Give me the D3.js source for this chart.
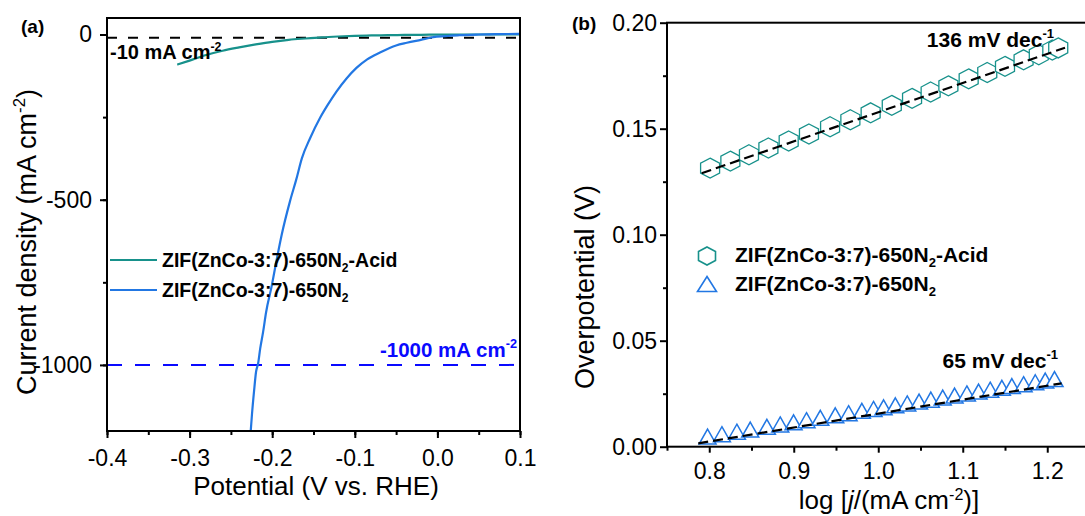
<!DOCTYPE html>
<html><head><meta charset="utf-8">
<script src="https://cdn.jsdelivr.net/npm/d3@7"></script>
<style>
body{margin:0;background:#fff}
text{font-family:"Liberation Sans",Arial,Helvetica,sans-serif;fill:#000}
</style>
</head><body>
<svg id="c" width="1085" height="516"></svg>
<script>
// ---------- Panel (a): LSV curves ----------
const potentialAcid = [-0.315,-0.30,-0.28,-0.26,-0.24,-0.22,-0.20,-0.18,-0.16,-0.14,-0.12,-0.10,-0.08,-0.06,-0.04,-0.02,0.0,0.05,0.10];
const currentAcid   = [-91,-79,-62,-49,-39,-30,-22,-16,-12,-8.5,-6,-4,-2.8,-2,-1.3,-0.8,-0.4,0,0.3];
const potentialN2 = [-0.226,-0.2245,-0.222,-0.2195,-0.217,-0.2145,-0.211,-0.2075,-0.2005,-0.196,-0.1885,-0.1785,-0.171,-0.164,-0.154,-0.142,-0.132,-0.122,-0.11,-0.098,-0.085,-0.07,-0.05,-0.037,-0.02,-0.005,0.01,0.027,0.05,0.07,0.10];
const currentN2   = [-1200,-1150,-1080,-1020,-995,-950,-900,-842,-760,-700,-606,-505,-440,-374,-313,-252,-210,-172,-133,-101,-75,-55,-33,-25,-16,-8,-5,-2,0,1,2];
const refLineA = [-10, -1000];
const xTicksA = [-0.4,-0.3,-0.2,-0.1,0.0,0.1];
const yTicksA = [0,-500,-1000];
const seriesNames = ["ZIF(ZnCo-3:7)-650N", "ZIF(ZnCo-3:7)-650N"];

// ---------- Panel (b): Tafel plots ----------
const logJAcid = [0.801,0.825,0.847,0.870,0.894,0.918,0.943,0.967,0.991,1.016,1.040,1.062,1.083,1.107,1.129,1.150,1.172,1.190,1.206,1.213];
const etaAcid  = [0.1314,0.1347,0.1377,0.1409,0.1442,0.1475,0.1509,0.1542,0.1575,0.1610,0.1643,0.1673,0.1702,0.1735,0.1765,0.1794,0.1825,0.1849,0.1871,0.1881];
const logJN2 = [0.798,0.815,0.8327,0.8485,0.8682,0.884,0.8998,0.9151,0.9314,0.9491,0.9649,0.9806,0.9944,1.0063,1.0202,1.0343,1.0483,1.0622,1.0763,1.0903,1.1049,1.1187,1.1325,1.1463,1.1581,1.172,1.1858,1.1976,1.2086];
const etaN2  = [0.0048,0.0059,0.0071,0.0081,0.0094,0.0105,0.0115,0.0125,0.0136,0.0148,0.0158,0.0169,0.0178,0.0186,0.0195,0.0204,0.0213,0.0222,0.0232,0.0241,0.0251,0.0260,0.0269,0.0278,0.0286,0.0295,0.0304,0.0312,0.0319];
const fitAcidX = [0.791,1.221], fitAcidY = [0.129,0.1882];
const fitN2X = [0.787,1.217], fitN2Y = [0.0016,0.0299];
const xTicksB = [0.8,0.9,1.0,1.1,1.2];
const yTicksB = [0.00,0.05,0.10,0.15,0.20];
const slopeLabels = ["136 mV dec", "65 mV dec"];

const TEAL = "#17918b", BLUE = "#2277e3", DBLUE = "#0a0aff";
const TICK_FS = 23, TITLE_FS = 26, VTITLE_FS = 27;
const svg = d3.select("#c");

function rich(sel, parts, fs, supShift){
  const ss = supShift || 0.42;
  let shift = 0;
  parts.forEach(([t, k]) => {
    const ts = sel.append("tspan").text(t);
    let target = 0, size = fs;
    if (k === "sup") { target = -ss*fs; size = 0.62*fs; }
    if (k === "sub") { target = 0.25*fs; size = 0.62*fs; }
    if (k === "it") { ts.attr("font-style","italic"); }
    ts.attr("dy", target - shift).attr("font-size", size);
    shift = target;
  });
  return sel;
}
const hyph = s => s.replace("\u2212","-");
function styleAxis(g){
  g.select(".domain").remove();
  g.selectAll("line").attr("stroke","#000").attr("stroke-width",2);
  g.selectAll("text").attr("font-size",TICK_FS).attr("font-family","Liberation Sans, Arial, sans-serif").attr("fill","#000");
}

// ================= Panel (a) =================
const A = {l:107, r:520, t:18, b:431};
const xA = d3.scaleLinear().domain([-0.4,0.1]).range([A.l,A.r]);
const yA = d3.scaleLinear().domain([-1200,50]).range([A.b,A.t]);
const gA = svg.append("g");
svg.append("clipPath").attr("id","clipA").append("rect").attr("x",A.l).attr("y",A.t).attr("width",A.r-A.l).attr("height",A.b-A.t);

[
  gA.append("g").attr("transform",`translate(0,${A.b})`)
    .call(d3.axisBottom(xA).tickValues(xTicksA).tickSize(7).tickPadding(12).tickFormat(d=>hyph(d3.format(".1f")(d)))),
  gA.append("g").attr("transform",`translate(0,${A.b})`)
    .call(d3.axisBottom(xA).tickValues(d3.range(-0.4,0.1001,0.05)).tickSize(4).tickFormat("")),
  gA.append("g").attr("transform",`translate(${A.l},0)`)
    .call(d3.axisLeft(yA).tickValues(yTicksA).tickSize(7).tickPadding(8).tickFormat(d=>String(d))),
  gA.append("g").attr("transform",`translate(${A.l},0)`)
    .call(d3.axisLeft(yA).tickValues([-1000,-750,-500,-250,0]).tickSize(4).tickFormat(""))
].forEach(styleAxis);

// reference lines
gA.append("line").attr("x1",A.l).attr("x2",A.r).attr("y1",yA(refLineA[0])).attr("y2",yA(refLineA[0]))
  .attr("stroke","#000").attr("stroke-width",2).attr("stroke-dasharray","10,11");
gA.append("line").attr("x1",A.l).attr("x2",A.r).attr("y1",yA(refLineA[1])).attr("y2",yA(refLineA[1]))
  .attr("stroke",DBLUE).attr("stroke-width",2).attr("stroke-dasharray","15,13");

// curves
const lineA = d3.line().x(d=>xA(d[0])).y(d=>yA(d[1])).curve(d3.curveMonotoneX);
gA.append("path").datum(d3.zip(potentialAcid,currentAcid)).attr("d",lineA)
  .attr("fill","none").attr("stroke",TEAL).attr("stroke-width",2.2).attr("clip-path","url(#clipA)");
gA.append("path").datum(d3.zip(potentialN2,currentN2)).attr("d",lineA)
  .attr("fill","none").attr("stroke",BLUE).attr("stroke-width",2.2).attr("clip-path","url(#clipA)");

// frame
gA.append("rect").attr("x",A.l).attr("y",A.t).attr("width",A.r-A.l).attr("height",A.b-A.t)
  .attr("fill","none").attr("stroke","#000").attr("stroke-width",2);

// annotations
rich(gA.append("text").attr("x",110).attr("y",59).attr("font-weight","bold").attr("font-size",20),
  [["-10 mA cm","n"],["-2","sup"]],20);
rich(gA.append("text").attr("x",517).attr("y",357).attr("text-anchor","end").attr("font-weight","bold").attr("font-size",20.5).style("fill",DBLUE),
  [["-1000 mA cm","n"],["-2","sup"]],20.5);
gA.append("text").attr("x",21).attr("y",33).attr("font-weight","bold").attr("font-size",19).text("(a)");

// legend (a)
[[TEAL,267,260,true],[BLUE,297,290,false]].forEach(([c,ty,ly,acid],i)=>{
  gA.append("line").attr("x1",110).attr("x2",157).attr("y1",ly).attr("y2",ly).attr("stroke",c).attr("stroke-width",2.2);
  const parts = [[seriesNames[i],"n"],["2","sub"]];
  if (acid) parts.push(["-Acid","n"]);
  rich(gA.append("text").attr("x",162).attr("y",ty).attr("font-weight","bold").attr("font-size",19.5), parts, 19.5);
});

// titles
gA.append("text").attr("x",316).attr("y",495).attr("text-anchor","middle").attr("font-size",TITLE_FS)
  .text("Potential (V vs. RHE)");
rich(gA.append("text").attr("transform","translate(36,242) rotate(-90)").attr("text-anchor","middle").attr("font-size",VTITLE_FS),
  [["Current density (mA cm","n"],["-2","sup"],[")","n"]],VTITLE_FS);

// ================= Panel (b) =================
const B = {l:667, r:1089.5, t:22.7, b:446.7};
const xB = d3.scaleLinear().domain([0.75,1.25]).range([B.l,B.r]);
const yB = d3.scaleLinear().domain([0,0.2]).range([B.b,B.t]);
const gB = svg.append("g");

[
  gB.append("g").attr("transform",`translate(0,${B.b})`)
    .call(d3.axisBottom(xB).tickValues(xTicksB).tickSize(6).tickPadding(10).tickFormat(d3.format(".1f"))),
  gB.append("g").attr("transform",`translate(0,${B.b})`)
    .call(d3.axisBottom(xB).tickValues([0.75,0.85,0.95,1.05,1.15,1.25]).tickSize(4).tickFormat("")),
  gB.append("g").attr("transform",`translate(${B.l},0)`)
    .call(d3.axisLeft(yB).tickValues(yTicksB).tickSize(7).tickPadding(3).tickFormat(d3.format(".2f"))),
  gB.append("g").attr("transform",`translate(${B.l},0)`)
    .call(d3.axisLeft(yB).tickValues([0.025,0.075,0.125,0.175]).tickSize(4).tickFormat(""))
].forEach(styleAxis);

// markers
function hexPath(hw, hh){
  return `M0,${-hh}L${hw},${-hh/2}L${hw},${hh/2}L0,${hh}L${-hw},${hh/2}L${-hw},${-hh/2}Z`;
}
function triPath(hw, hh){
  return `M0,${-hh}L${hw},${hh}L${-hw},${hh}Z`;
}
gB.append("g").selectAll("path").data(d3.zip(logJAcid,etaAcid)).join("path")
  .attr("d",hexPath(9.5,10)).attr("transform",d=>`translate(${xB(d[0])},${yB(d[1])})`)
  .attr("fill","#fff").attr("stroke",TEAL).attr("stroke-width",1.3);
gB.append("g").selectAll("path").data(d3.zip(logJN2,etaN2)).join("path")
  .attr("d",triPath(8.5,7.5)).attr("transform",d=>`translate(${xB(d[0])},${yB(d[1])})`)
  .attr("fill","#fff").attr("stroke",BLUE).attr("stroke-width",1.5);

// fit lines
const lineB = d3.line().x(d=>xB(d[0])).y(d=>yB(d[1]));
[[fitAcidX,fitAcidY],[fitN2X,fitN2Y]].forEach(([xs,ys])=>{
  gB.append("path").datum(d3.zip(xs,ys)).attr("d",lineB).attr("fill","none")
    .attr("stroke","#000").attr("stroke-width",2.2).attr("stroke-dasharray","10,5");
});

// frame (right side falls outside the window)
gB.append("rect").attr("x",B.l).attr("y",B.t).attr("width",B.r-B.l).attr("height",B.b-B.t)
  .attr("fill","none").attr("stroke","#000").attr("stroke-width",2);

// slope labels
rich(gB.append("text").attr("x",1054).attr("y",46.7).attr("text-anchor","end").attr("font-weight","bold").attr("font-size",21),
  [[slopeLabels[0],"n"],["-1","sup"]],21);
rich(gB.append("text").attr("x",1058).attr("y",368).attr("text-anchor","end").attr("font-weight","bold").attr("font-size",21),
  [[slopeLabels[1],"n"],["-1","sup"]],21);
gB.append("text").attr("x",572).attr("y",30).attr("font-weight","bold").attr("font-size",19).text("(b)");

// legend (b)
gB.append("path").attr("d",hexPath(8.5,9)).attr("transform","translate(707,256)")
  .attr("fill","#fff").attr("stroke",TEAL).attr("stroke-width",1.6);
gB.append("path").attr("d",triPath(9.5,7.5)).attr("transform","translate(707,284)")
  .attr("fill","#fff").attr("stroke",BLUE).attr("stroke-width",1.6);
rich(gB.append("text").attr("x",735).attr("y",262).attr("font-weight","bold").attr("font-size",21),
  [[seriesNames[0],"n"],["2","sub"],["-Acid","n"]],21);
rich(gB.append("text").attr("x",735).attr("y",291).attr("font-weight","bold").attr("font-size",21),
  [[seriesNames[1],"n"],["2","sub"]],21);

// titles
rich(gB.append("text").attr("x",889).attr("y",509).attr("text-anchor","middle").attr("font-size",TITLE_FS),
  [["log [","n"],["j","it"],["/(mA cm","n"],["-2","sup"],[")]","n"]],TITLE_FS,0.36);
gB.append("text").attr("transform","translate(594,287) rotate(-90)").attr("text-anchor","middle").attr("font-size",VTITLE_FS)
  .text("Overpotential (V)");
</script>
</body></html>
